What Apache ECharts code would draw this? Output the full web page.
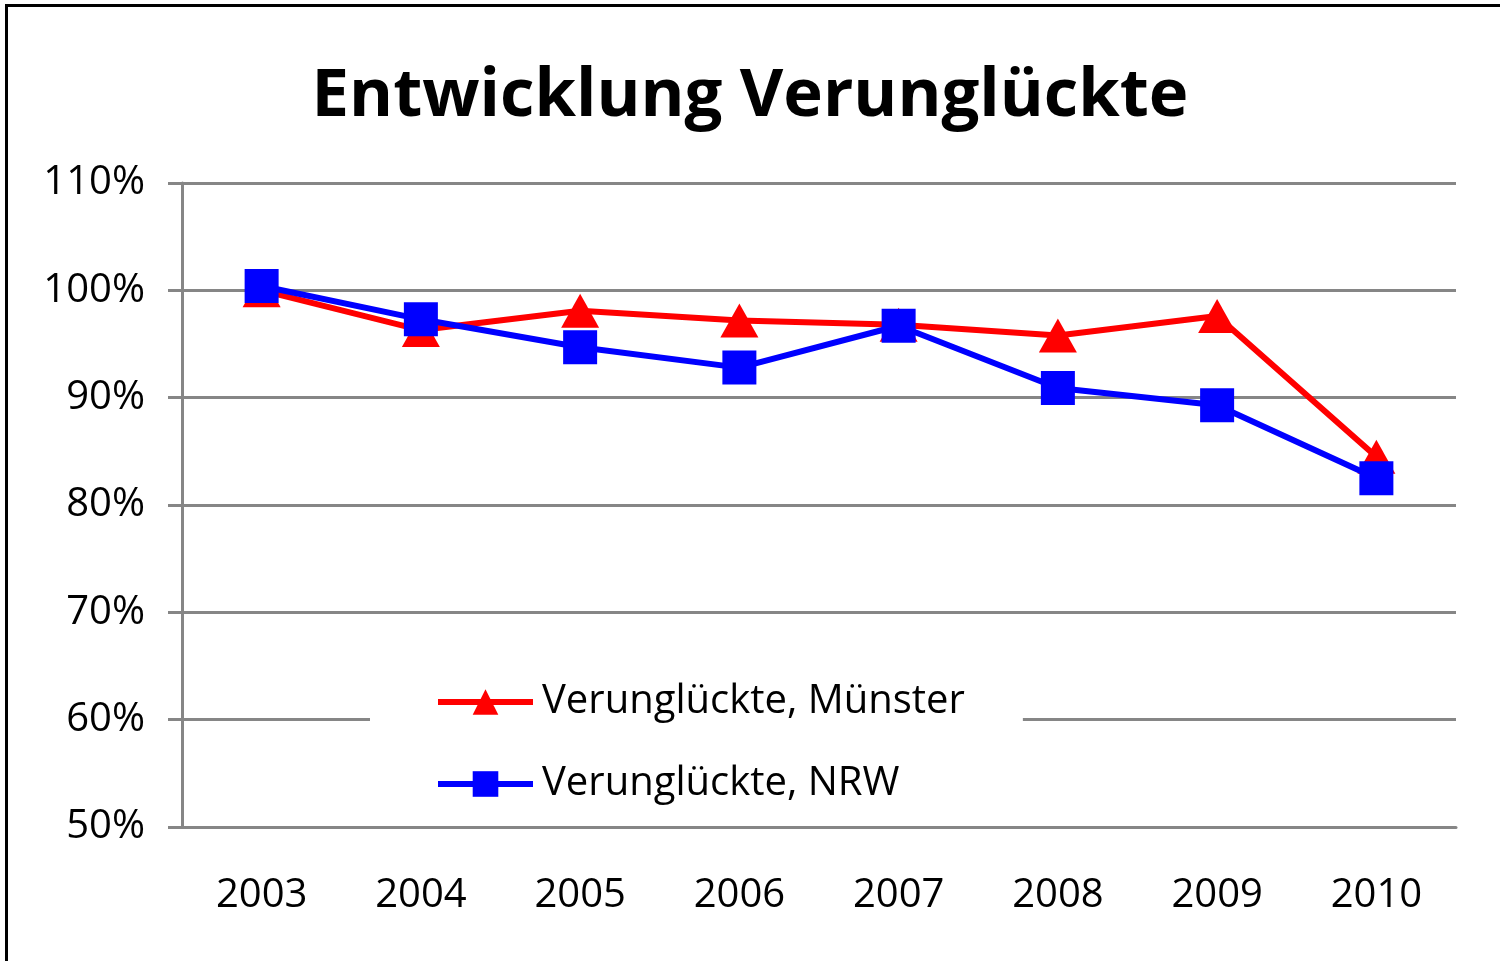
<!DOCTYPE html>
<html>
<head>
<meta charset="utf-8">
<script src="https://cdn.jsdelivr.net/npm/echarts@6/dist/echarts.min.js"></script>
<style>
  html, body { margin: 0; padding: 0; background: #fff; }
  #chart { width: 1500px; height: 961px; }
</style>
</head>
<body>
<div id="chart"></div>
<script>
// Daten
const jahre = ['2003', '2004', '2005', '2006', '2007', '2008', '2009', '2010'];
const muenster = [100.0, 96.3, 98.1, 97.2, 96.8, 95.8, 97.6, 84.5];
const nrw = [100.4, 97.3, 94.7, 92.8, 96.7, 90.9, 89.3, 82.5];
const yTicks = [50, 60, 70, 80, 90, 100, 110];

const FONT = 'Open Sans';
const GRAU = '#868686';

const chart = echarts.init(document.getElementById('chart'));

chart.setOption({
  backgroundColor: '#fff',
  animation: false,
  title: {
    text: 'Entwicklung Verunglückte',
    left: 'center',
    top: 58,
    textStyle: { fontFamily: FONT, fontWeight: 'bold', fontSize: 67, color: '#000' }
  },
  graphic: [{
    type: 'rect',
    shape: { x: 6.5, y: 5.5, width: 1520, height: 990 },
    style: { fill: 'none', stroke: '#000', lineWidth: 3 },
    z: 10
  }],
  grid: { left: 182, right: 44, top: 183, bottom: 134 },
  legend: {
    orient: 'vertical',
    left: 370,
    top: 664,
    padding: [18, 58, 18, 65],
    itemGap: 42,
    itemWidth: 95,
    itemHeight: 32,
    backgroundColor: '#fff',
    lineStyle: { width: 6 },
    textStyle: { fontFamily: FONT, fontSize: 40, color: '#000', padding: [0, 0, 0, 4] },
    data: ['Verunglückte, Münster', 'Verunglückte, NRW']
  },
  xAxis: {
    type: 'category',
    data: jahre,
    boundaryGap: true,
    axisLine: { lineStyle: { color: GRAU, width: 3 } },
    axisTick: { length: 14, lineStyle: { color: GRAU, width: 3 } },
    axisLabel: { margin: 49, fontFamily: FONT, fontSize: 40, color: '#000' },
    splitLine: { show: false }
  },
  yAxis: {
    type: 'value',
    min: yTicks[0],
    max: yTicks[yTicks.length - 1],
    interval: 10,
    axisLine: { show: true, lineStyle: { color: GRAU, width: 3 } },
    axisTick: { show: true, length: 14, lineStyle: { color: GRAU, width: 3 } },
    axisLabel: { margin: 37, fontFamily: FONT, fontSize: 40, color: '#000', formatter: '{value}%' },
    splitLine: { show: true, lineStyle: { color: GRAU, width: 3 } }
  },
  series: [
    {
      name: 'Verunglückte, Münster',
      type: 'line',
      data: muenster,
      color: '#ff0000',
      symbol: 'triangle',
      symbolSize: [38, 34],
      lineStyle: { width: 6, color: '#ff0000' },
      itemStyle: { color: '#ff0000' },
      z: 3
    },
    {
      name: 'Verunglückte, NRW',
      type: 'line',
      data: nrw,
      color: '#0000ff',
      symbol: 'rect',
      symbolSize: 34,
      lineStyle: { width: 6, color: '#0000ff' },
      itemStyle: { color: '#0000ff' },
      z: 4
    }
  ]
});
</script>
</body>
</html>
